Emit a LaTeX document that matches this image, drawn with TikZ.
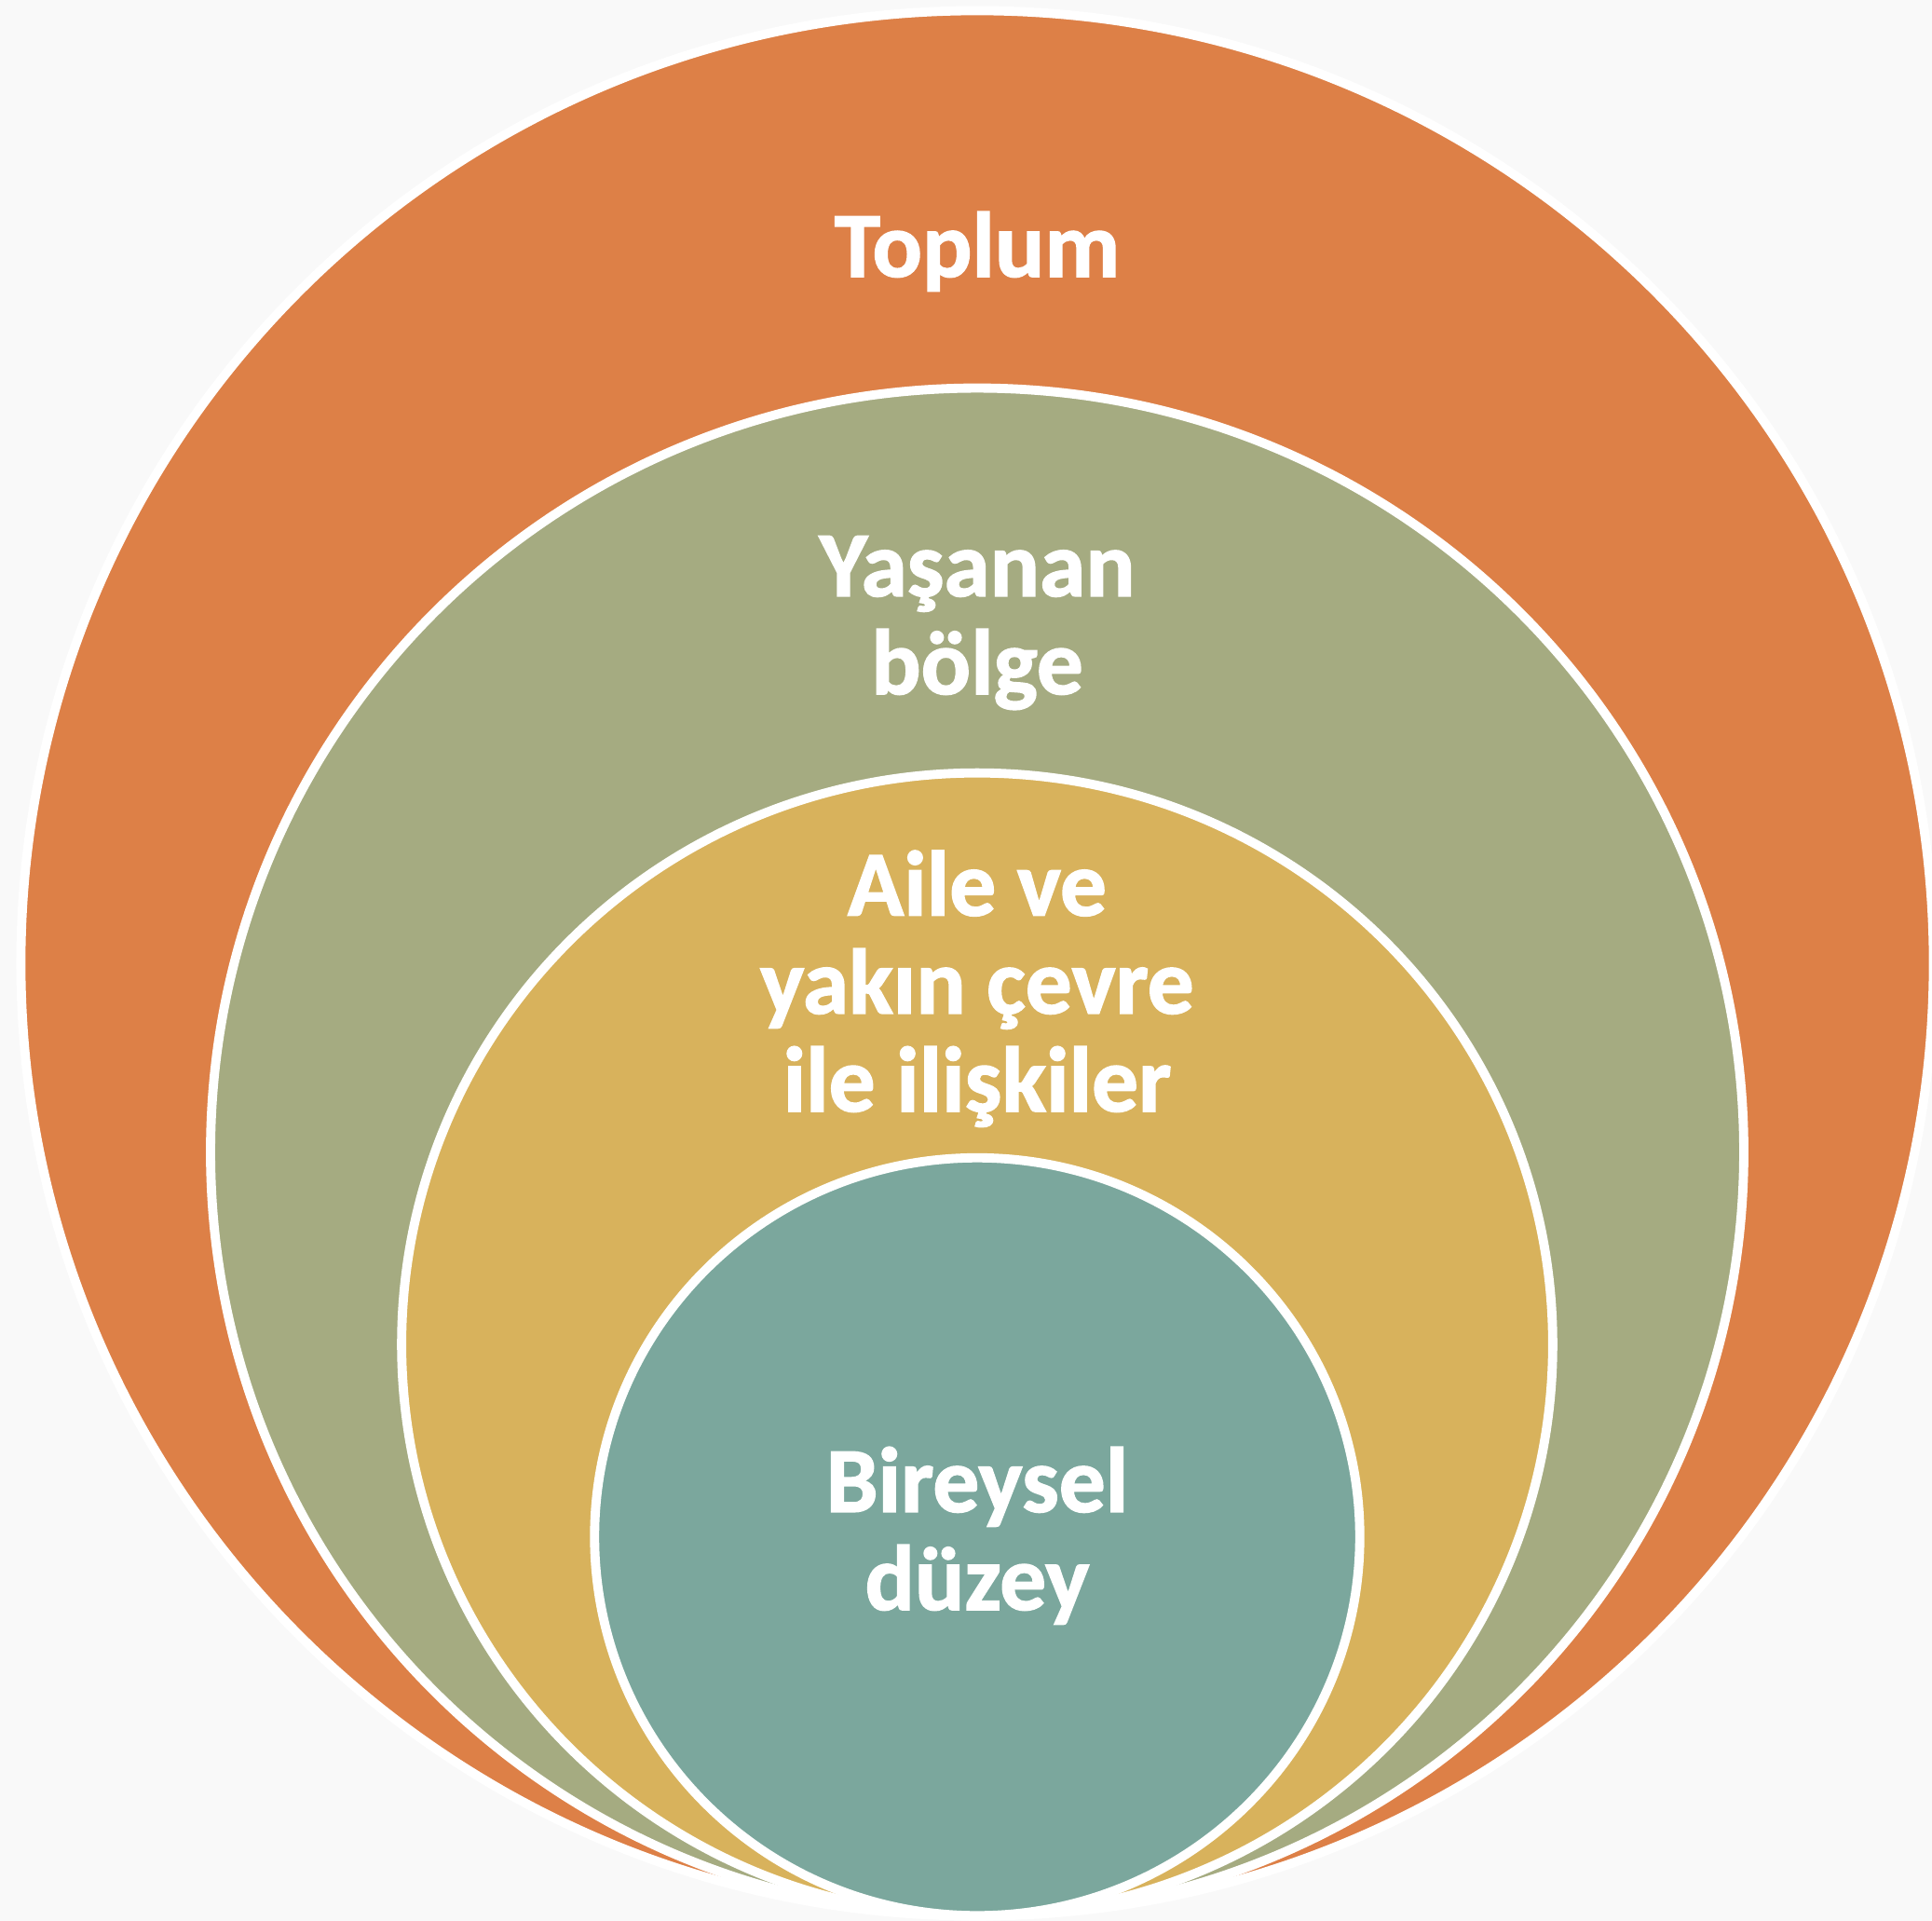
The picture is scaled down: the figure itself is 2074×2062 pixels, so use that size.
\documentclass[tikz,border=0pt]{standalone}
\usepackage{fontspec}
\setmainfont{Carlito}[BoldFeatures={FakeBold=1.5}]
\usetikzlibrary{positioning}
\usetikzlibrary{shapes.geometric}
\definecolor{pagegray}{HTML}{F9F9F9}
\definecolor{toplumorange}{HTML}{DD8047}
\definecolor{bolgegreen}{HTML}{A5AB81}
\definecolor{aileyellow}{HTML}{D8B25C}
\definecolor{bireyteal}{HTML}{7BA79D}
\tikzset{
	% ring style
	ring/.style={draw=white,line width=2.8pt,ellipse,inner sep=0pt},
	% label style
	ringlabel/.style={text=white,font=\bfseries\fontsize{28.3}{29.9}\selectfont,align=center,anchor=base},
}

\begin{document}
\begin{tikzpicture}[x=0.01cm,y=-0.01cm]
% the page
\fill[pagegray] (0,0) rectangle (2074,2062);
\useasboundingbox (0,0) rectangle (2074,2062);
% the rings, all touching at the bottom
\node[ring,fill=toplumorange,minimum width=20.52cm,minimum height=20.44cm] (toplum) at (1049,1034) {};
\node[ring,fill=bolgegreen,minimum width=16.45cm,minimum height=16.39cm] (bolge) at (1049,1236.5) {};
\node[ring,fill=aileyellow,minimum width=12.35cm,minimum height=12.26cm] (aile) at (1049,1443) {};
\node[ring,fill=bireyteal,minimum width=8.21cm,minimum height=8.13cm] (birey) at (1049,1649.5) {};
% their labels (base = last line)
\node[ringlabel] (toplumtext) at (1049,297) {Toplum};
\node[ringlabel] (bolgetext) at (1049,745) {Yaşanan\\bölge};
\node[ringlabel] (ailetext) at (1049,1193) {Aile ve\\yakın çevre\\ile ilişkiler};
\node[ringlabel] (bireytext) at (1049,1728) {Bireysel\\düzey};
\end{tikzpicture}
\end{document}
